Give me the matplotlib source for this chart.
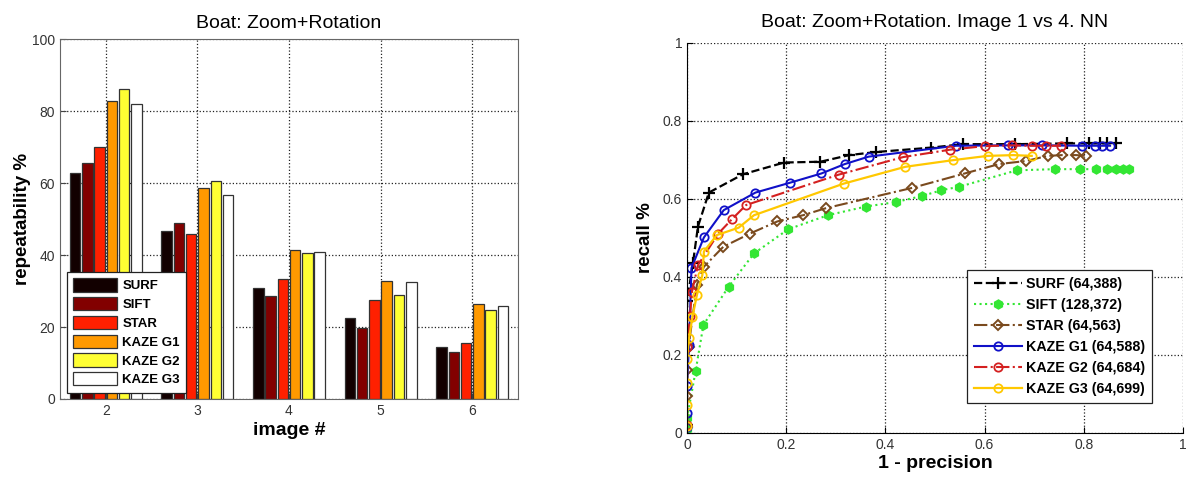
import numpy as np
import matplotlib
matplotlib.use('Agg')
import matplotlib.pyplot as plt

plt.rcParams['font.family'] = ['Liberation Sans', 'DejaVu Sans']

# ---- left: repeatability bars
images = [2, 3, 4, 5, 6]
detectors = ['SURF', 'SIFT', 'STAR', 'KAZE G1', 'KAZE G2', 'KAZE G3']
surf_rep = [62.9, 46.6, 30.7, 22.6, 14.4]
sift_rep = [65.5, 48.9, 28.7, 19.6, 13.1]
star_rep = [70.0, 45.9, 33.3, 27.5, 15.6]
kg1_rep = [82.8, 58.5, 41.3, 32.8, 26.3]
kg2_rep = [86.0, 60.6, 40.6, 29.0, 24.8]
kg3_rep = [81.9, 56.8, 40.9, 32.4, 25.7]
bar_colors = ['#120000', '#820000', '#ff2000', '#ff9900', '#ffff33', '#ffffff']

# ---- right: recall vs 1-precision (image 1 vs 4)
surf_x = [0, 0, 0.012, 0.022, 0.044, 0.113, 0.196, 0.269, 0.327, 0.382, 0.491, 0.556, 0.662, 0.767, 0.811, 0.833, 0.847, 0.865]
surf_y = [0.02, 0.337, 0.436, 0.529, 0.616, 0.663, 0.693, 0.695, 0.712, 0.720, 0.731, 0.740, 0.740, 0.742, 0.742, 0.742, 0.742, 0.742]
sift_x = [0, 0, 0.0175, 0.033, 0.084, 0.135, 0.204, 0.284, 0.36, 0.422, 0.473, 0.513, 0.549, 0.665, 0.742, 0.793, 0.825, 0.847, 0.865, 0.88, 0.891]
sift_y = [0.01, 0.038, 0.16, 0.277, 0.375, 0.46, 0.522, 0.558, 0.58, 0.592, 0.607, 0.622, 0.631, 0.673, 0.676, 0.676, 0.676, 0.676, 0.676, 0.676, 0.676]
star_x = [0, 0, 0, 0.003, 0.02, 0.034, 0.073, 0.127, 0.182, 0.234, 0.28, 0.454, 0.56, 0.629, 0.684, 0.727, 0.756, 0.785, 0.804]
star_y = [0.015, 0.094, 0.162, 0.22, 0.38, 0.426, 0.477, 0.511, 0.542, 0.558, 0.576, 0.628, 0.665, 0.689, 0.697, 0.71, 0.712, 0.712, 0.71]
kg1_x = [0, 0, 0, 0.004, 0.009, 0.034, 0.074, 0.138, 0.207, 0.271, 0.318, 0.366, 0.542, 0.647, 0.716, 0.796, 0.822, 0.836, 0.853]
kg1_y = [0.015, 0.05, 0.12, 0.226, 0.423, 0.501, 0.571, 0.616, 0.641, 0.665, 0.689, 0.708, 0.736, 0.737, 0.737, 0.736, 0.736, 0.736, 0.736]
kg2_x = [0, 0, 0.006, 0.01, 0.022, 0.063, 0.09, 0.119, 0.306, 0.436, 0.531, 0.601, 0.655, 0.695, 0.724, 0.754]
kg2_y = [0.02, 0.22, 0.30, 0.362, 0.43, 0.511, 0.547, 0.584, 0.662, 0.707, 0.726, 0.735, 0.737, 0.736, 0.736, 0.736]
kg3_x = [0, 0, 0, 0, 0.004, 0.011, 0.02, 0.031, 0.034, 0.06, 0.104, 0.135, 0.316, 0.44, 0.536, 0.606, 0.658, 0.695]
kg3_y = [0.017, 0.072, 0.128, 0.19, 0.243, 0.298, 0.354, 0.405, 0.465, 0.507, 0.526, 0.558, 0.639, 0.682, 0.699, 0.71, 0.712, 0.71]
curve_labels = ['SURF (64,388)', 'SIFT (128,372)', 'STAR (64,563)',
                'KAZE G1 (64,588)', 'KAZE G2 (64,684)', 'KAZE G3 (64,699)']

fig = plt.figure(figsize=(11.87, 4.82), dpi=100)

# left panel
ax1 = fig.add_axes([0.0505, 0.1722, 0.3859, 0.7468])
reps = [surf_rep, sift_rep, star_rep, kg1_rep, kg2_rep, kg3_rep]
x = np.array(images, dtype=float)
step = 0.134
for i, (vals, c, lab) in enumerate(zip(reps, bar_colors, detectors)):
    ax1.bar(x + (i - 2.5) * step, vals, width=0.115, color=c,
            edgecolor='#333333', linewidth=0.9, label=lab)
ax1.set_xlim(1.5, 6.5)
ax1.set_ylim(0, 100)
ax1.set_xticks(images)
ax1.set_yticks([0, 20, 40, 60, 80, 100])
ax1.set_axisbelow(True)
ax1.grid(True, linestyle=':', color='#222222', linewidth=0.9)
ax1.tick_params(direction='in', labelsize=10, colors='#444444', labelcolor='#333333', length=4)
for s in ax1.spines.values():
    s.set_color('#666666')
ax1.set_title('Boat: Zoom+Rotation', fontsize=14, pad=8)
ax1.set_xlabel('image #', fontsize=14, fontweight='bold', labelpad=3)
ax1.set_ylabel('repeatability %', fontsize=13.5, fontweight='bold', labelpad=1)
leg1 = ax1.legend(loc='lower left', bbox_to_anchor=(0.015, 0.017), borderaxespad=0,
                  prop={'size': 9.5, 'weight': 'bold'}, handlelength=3.3, handleheight=1.15,
                  labelspacing=0.36, handletextpad=0.4, borderpad=0.5,
                  fancybox=False, framealpha=1, edgecolor='#222222')
leg1.get_frame().set_linewidth(0.9)

# right panel
ax2 = fig.add_axes([0.5788, 0.1017, 0.4178, 0.8097])
ax2.plot(surf_x, surf_y, '--', color='black', lw=1.6, marker='+', ms=8, mew=1.6, label=curve_labels[0])
ax2.plot(sift_x, sift_y, ':', color='#33e633', lw=1.5, marker='h', ms=6.5, mfc='#33e633', mec='#33e633', label=curve_labels[1])
ax2.plot(star_x, star_y, '-.', color='#7a4a1e', lw=1.5, marker='D', ms=5, mfc='none', mew=1.4, label=curve_labels[2])
ax2.plot(kg1_x, kg1_y, '-', color='#1010c8', lw=1.5, marker='o', ms=6, mfc='none', mew=1.3, label=curve_labels[3])
ax2.plot(kg2_x, kg2_y, '-.', color='#d42020', lw=1.5, marker='o', ms=6, mfc='none', mew=1.3, label=curve_labels[4])
ax2.plot(kg3_x, kg3_y, '-', color='#ffc800', lw=1.6, marker='o', ms=6, mfc='none', mew=1.3, label=curve_labels[5])
ax2.set_xlim(0, 1)
ax2.set_ylim(0, 1)
ticks = [0, 0.2, 0.4, 0.6, 0.8, 1]
ax2.set_xticks(ticks)
ax2.set_yticks(ticks)
ax2.set_xticklabels(['0', '0.2', '0.4', '0.6', '0.8', '1'])
ax2.set_yticklabels(['0', '0.2', '0.4', '0.6', '0.8', '1'])
ax2.grid(True, linestyle=':', color='#222222', linewidth=0.9)
ax2.spines['top'].set_visible(False)
ax2.spines['right'].set_visible(False)
ax2.tick_params(direction='in', labelsize=10, labelcolor='#333333', length=4)
ax2.set_title('Boat: Zoom+Rotation. Image 1 vs 4. NN', fontsize=14, pad=11)
ax2.set_xlabel('1 - precision', fontsize=14, fontweight='bold', labelpad=2)
ax2.set_ylabel('recall %', fontsize=13.5, fontweight='bold', labelpad=6)
leg2 = ax2.legend(loc='lower left', bbox_to_anchor=(0.565, 0.077), borderaxespad=0,
                  prop={'size': 10.3, 'weight': 'bold'}, handlelength=3.3,
                  labelspacing=0.48, handletextpad=0.3, borderpad=0.5,
                  fancybox=False, framealpha=1, edgecolor='#222222')
leg2.get_frame().set_linewidth(0.9)

fig.savefig('out.png', dpi=100)
